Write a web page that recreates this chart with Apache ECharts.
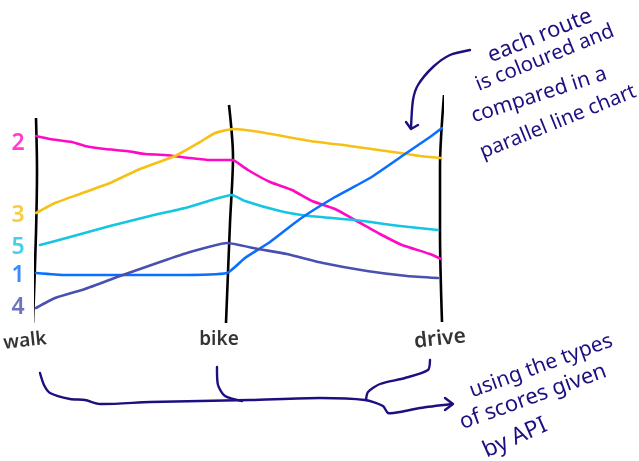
<!DOCTYPE html>
<html><head><meta charset="utf-8">
<style>html,body{margin:0;padding:0;background:#fff}#c{width:639px;height:461px}</style>
<script src="https://cdn.jsdelivr.net/npm/echarts@6/dist/echarts.min.js"></script>
</head><body><div id="c"></div>
<script>
const categories = ['walk', 'bike', 'drive'];
const axisWalk = [[0,212],[1,160],[0,97],[-3,7]];
const axisBike = [[193,225],[197,173],[194,107],[190,7]];
const axisDrive = [[408,235],[404,163],[404,97],[406,8]];
const route2 = [[0,194],[14,191],[36,188],[49,184],[69,181],[91,179],[109,176],[129,175],[154,172],[174,170],[196,170],[199,169],[212,160],[234,148],[256,140],[276,129],[299,121],[319,110],[344,96],[366,85],[394,76],[405,71]];
const route3 = [[0,117],[19,127],[44,136],[74,147],[104,161],[139,174],[164,188],[179,197],[197,201],[224,198],[274,189],[314,184],[364,177],[384,174],[405,172]];
const route5 = [[4,85],[34,93],[74,104],[114,114],[149,122],[179,131],[196,135],[209,129],[244,119],[274,114],[319,110],[364,104],[402,100]];
const route1 = [[0,57],[29,55],[84,55],[139,55],[191,57],[209,72],[234,88],[264,111],[299,133],[334,152],[369,176],[394,193],[406,202]];
const route4 = [[0,22],[19,32],[49,41],[84,54],[124,68],[154,78],[191,87],[222,81],[251,76],[287,67],[331,59],[371,54],[402,52]];
const routeNames = ['2','3','5','1','4'];
const routeColors = ['#ff0ac4','#f6c014','#14c6e2','#0a6eff','#4a50b0'];
const routeLabelY = [187,115,83,55,23];
const categoryLabelPos = [[-11,-11],[183,-10],[404,-9]];
const categoryLabelRotate = [6,0,6];
const notes = [
  ['each route',540,36,22,22],['is coloured and',545,58,22,20.5],['compared in a',539,95,18,21],['parallel line chart',558,122,22,20.5],
  ['using the types',541,366,20,21],['of scores given',533,397,20,22],['by API',515,438,24,23]
];
const navy = '#1c1080';

const routes = [route2,route3,route5,route1,route4];
const series = [];
[axisWalk,axisBike,axisDrive].forEach((d,i)=>series.push({
  type:'line',name:categories[i]+' axis',data:d,smooth:0.3,showSymbol:false,clip:false,silent:true,
  lineStyle:{color:'#000',width:2.6}
}));
routes.forEach((d,i)=>series.push({
  type:'line',name:'route '+routeNames[i],data:d,smooth:0.15,showSymbol:false,clip:false,
  lineStyle:{color:routeColors[i],width:2.6,cap:'round',join:'round'}
}));
series.push({type:'scatter',clip:false,symbolSize:0,silent:true,
  data:routeNames.map((n,i)=>({value:[-18,routeLabelY[i]],label:{show:true,position:'inside',formatter:n,color:routeColors[i],fontSize:23,fontWeight:600,fontFamily:'Noto Sans'}}))});
series.push({type:'scatter',clip:false,symbolSize:0,silent:true,
  data:categories.map((n,i)=>({value:categoryLabelPos[i],label:{show:true,position:'inside',formatter:n,color:'#000',fontSize:i===2?21:19,fontWeight:600,fontFamily:'Noto Sans',rotate:categoryLabelRotate[i]}}))});

const poly = (points,lw)=>({type:'polyline',silent:true,shape:{points,smooth:0.25},style:{stroke:navy,lineWidth:lw||2.4,fill:null,lineCap:'round',lineJoin:'round'}});
const graphic = [
  poly([[470,50],[450,55],[433,67],[418,85],[413,100],[411,128]]),
  {type:'polyline',silent:true,shape:{points:[[406,122],[411,129],[418,125]]},style:{stroke:navy,lineWidth:2.4,fill:null,lineCap:'round',lineJoin:'round'}},
  poly([[40,373],[44,385],[50,393],[70,399],[85,400],[100,404],[150,402],[250,400],[320,398],[365,400],[383,406],[388,413],[400,412],[420,408],[452,404]]),
  poly([[217,367],[218,385],[225,396],[242,401]]),
  poly([[430,360],[428,370],[405,378],[380,384],[368,392],[366,400]]),
  {type:'polyline',silent:true,shape:{points:[[445,398],[453,404],[445,410]]},style:{stroke:navy,lineWidth:2.4,fill:null,lineCap:'round',lineJoin:'round'}}
].concat(notes.map(n=>({type:'text',silent:true,x:n[1],y:n[2],rotation:n[3]*Math.PI/180,
  style:{text:n[0],fill:navy,fontSize:n[4],fontFamily:'Noto Sans',align:'center',verticalAlign:'middle'}})));

const chart = echarts.init(document.getElementById('c'),null,{renderer:'canvas'});
chart.setOption({
  animation:false,backgroundColor:'#fff',
  grid:{left:36,right:197,top:90,bottom:131},
  xAxis:{type:'value',min:0,max:406,show:false},
  yAxis:{type:'value',min:0,max:240,show:false},
  series,graphic
});
</script></body></html>
